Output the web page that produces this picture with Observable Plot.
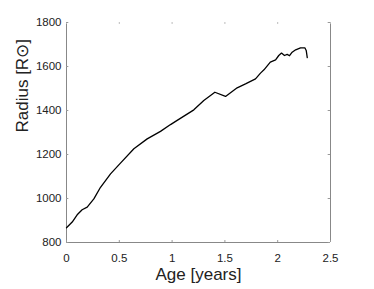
<!DOCTYPE html>
<html>
<head>
<meta charset="utf-8">
<script src="https://cdn.jsdelivr.net/npm/d3@7"></script>
<script src="https://cdn.jsdelivr.net/npm/@observablehq/plot@0.6"></script>
<style>
  html, body { margin: 0; padding: 0; background: #fff; }
</style>
</head>
<body>
<div id="chart"></div>
<script>
const age = [0, 0.054, 0.101, 0.148, 0.196, 0.259, 0.322, 0.417, 0.511, 0.638, 0.764, 0.89, 0.985, 1.048, 1.206, 1.30, 1.405, 1.506, 1.616, 1.70, 1.79, 1.837, 1.87, 1.93, 1.98, 2.01, 2.036, 2.064, 2.09, 2.112, 2.137, 2.17, 2.216, 2.257, 2.27, 2.28];
const radius = [867, 893, 926, 949, 961, 998, 1051, 1112, 1161, 1226, 1271, 1305, 1336, 1355, 1403, 1445, 1483, 1464, 1503, 1522, 1544, 1570, 1585, 1620, 1630, 1650, 1661, 1650, 1655, 1649, 1665, 1676, 1685, 1685, 1673, 1640];
const xTicks = [0, 0.5, 1, 1.5, 2, 2.5];
const xTickLabels = ["0", "0.5", "1", "1.5", "2", "2.5"];
const yTicks = [800, 1000, 1200, 1400, 1600, 1800];
const xLabel = "Age [years]";
const yLabel = "Radius [R\u2299]";

const data = age.map((a, i) => ({age: a, radius: radius[i]}));

const chart = Plot.plot({
  width: 374,
  height: 289,
  marginLeft: 66,
  marginRight: 44,
  marginTop: 22,
  marginBottom: 47,
  style: {fontFamily: "Liberation Sans, Arial, sans-serif", fontSize: "11.5px", color: "#222", background: "#fff"},
  x: {domain: [0, 2.5]},
  y: {domain: [800, 1800]},
  marks: [
    Plot.ruleX([0, 2.5], {stroke: "#888", strokeWidth: 1}),
    Plot.ruleY([800], {stroke: "#888", strokeWidth: 1}),
    Plot.ruleX(xTicks, {x: d => d, y1: 800, y2: 809, stroke: "#999", strokeWidth: 1}),
    Plot.ruleX(xTicks, {x: d => d, y1: 1791, y2: 1800, stroke: "#bbb", strokeWidth: 1}),
    Plot.ruleY(yTicks, {y: d => d, x1: 0, x2: 0.022, stroke: "#999", strokeWidth: 1}),
    Plot.ruleY(yTicks, {y: d => d, x1: 2.478, x2: 2.5, stroke: "#999", strokeWidth: 1}),
    Plot.axisX({ticks: xTicks, tickFormat: (d, i) => xTickLabels[i], tickSize: 0, tickPadding: 11, label: null}),
    Plot.axisY({ticks: yTicks, tickFormat: d => String(d), tickSize: 0, tickPadding: 5, label: null}),
    Plot.line(data, {x: "age", y: "radius", stroke: "#000", strokeWidth: 1.3}),
    Plot.text([xLabel], {frameAnchor: "bottom", dy: 37, fontSize: 17, fill: "#222"}),
    Plot.text([yLabel], {frameAnchor: "left", dx: -44, rotate: -90, fontSize: 17, fill: "#222"})
  ]
});
document.getElementById("chart").appendChild(chart);
</script>
</body>
</html>
